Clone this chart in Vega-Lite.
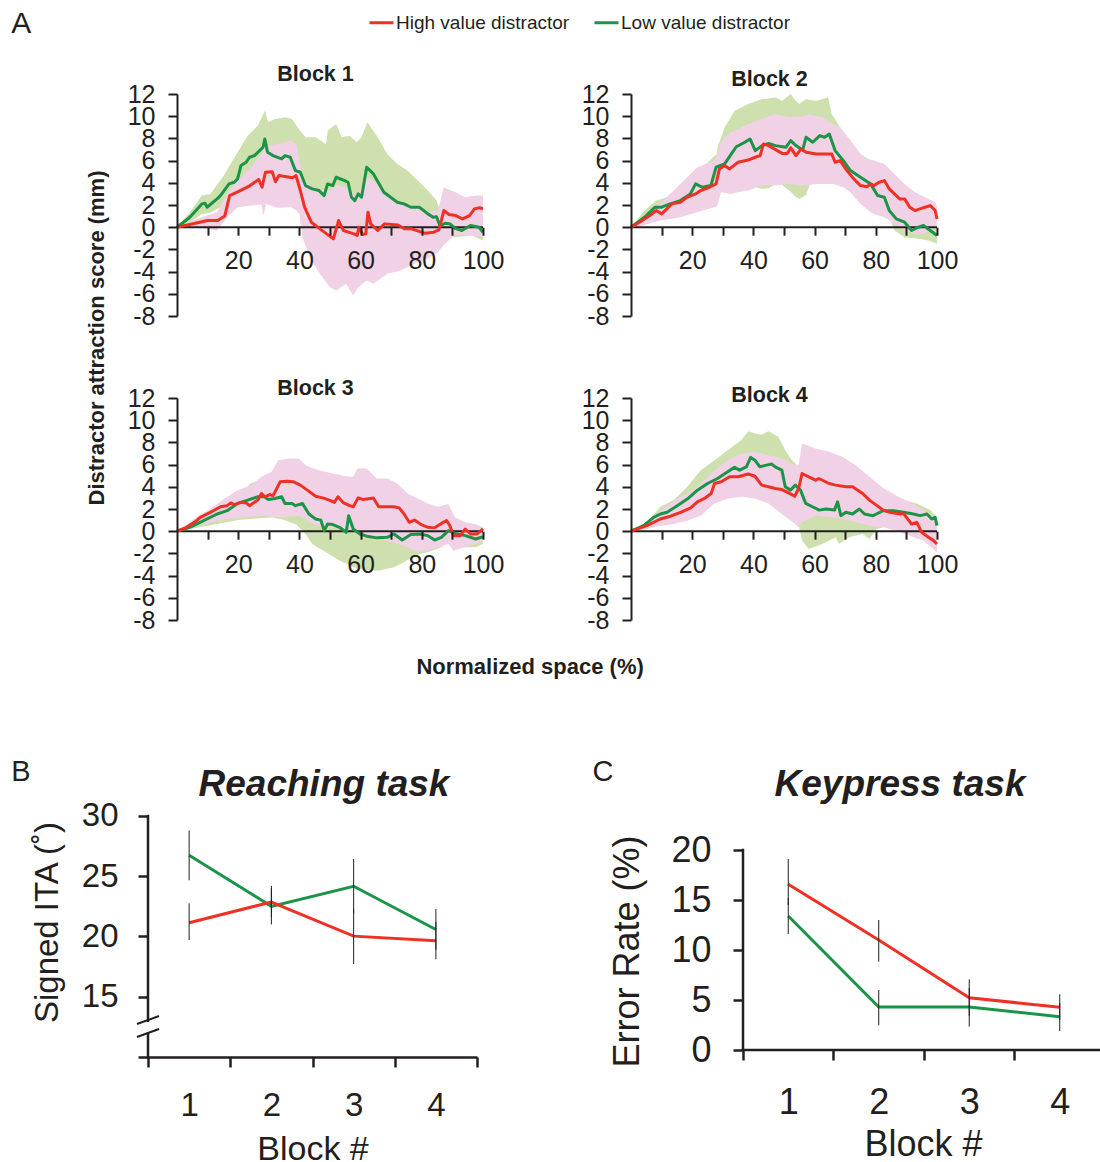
{
"$schema": "https://vega.github.io/schema/vega-lite/v6.json",
"padding": {"left": 11, "top": 9, "right": 2, "bottom": 2},
"title": {"text": "A", "anchor": "start", "frame": "bounds", "fontSize": 30, "fontWeight": "normal", "baseline": "bottom", "offset": -60, "color": "#231f20", "font": "Liberation Sans"},
"config": {
 "view": {"stroke": null},
 "font": "Liberation Sans",
 "axis": {"grid": false, "labelOverlap": false, "labelFlush": false, "domainColor": "#231f20", "tickColor": "#231f20", "labelColor": "#231f20", "titleColor": "#231f20", "labelFont": "Liberation Sans", "titleFont": "Liberation Sans", "titleFontWeight": "normal"},
 "title": {"font": "Liberation Sans", "fontSize": 21.5, "fontWeight": "bold", "color": "#231f20", "frame": "group", "anchor": "middle", "baseline": "bottom"},
 "legend": {"orient": "none", "legendX": 220, "legendY": -85, "direction": "horizontal", "symbolType": "stroke", "symbolSize": 576, "symbolStrokeWidth": 3, "labelFontSize": 19, "labelFont": "Liberation Sans", "labelColor": "#231f20", "columnPadding": 18, "labelOffset": 1, "labelLimit": 0}
},
"datasets": {
 "lines": [
{"b":1,"g":"H","x":0,"y":0},{"b":1,"g":"H","x":6.7,"y":0.4},{"b":1,"g":"H","x":10,"y":0.6},{"b":1,"g":"H","x":13.3,"y":0.6},{"b":1,"g":"H","x":15.6,"y":1.0},{"b":1,"g":"H","x":17.2,"y":2.85},{"b":1,"g":"H","x":20,"y":3.2},{"b":1,"g":"H","x":23.3,"y":3.65},{"b":1,"g":"H","x":26.7,"y":4.3},{"b":1,"g":"H","x":27.8,"y":3.6},{"b":1,"g":"H","x":28.9,"y":4.95},{"b":1,"g":"H","x":31.1,"y":5.0},{"b":1,"g":"H","x":32.2,"y":4.1},{"b":1,"g":"H","x":33.3,"y":4.65},{"b":1,"g":"H","x":37.8,"y":4.45},{"b":1,"g":"H","x":38.9,"y":4.65},{"b":1,"g":"H","x":40,"y":3.6},{"b":1,"g":"H","x":41.7,"y":1.8},{"b":1,"g":"H","x":43.9,"y":0.45},{"b":1,"g":"H","x":46.7,"y":-0.15},{"b":1,"g":"H","x":51.1,"y":-1.05},{"b":1,"g":"H","x":52.8,"y":0.6},{"b":1,"g":"H","x":54.4,"y":-0.3},{"b":1,"g":"H","x":57.8,"y":-0.6},{"b":1,"g":"H","x":58.9,"y":-0.75},{"b":1,"g":"H","x":59.4,"y":0},{"b":1,"g":"H","x":60.6,"y":-0.65},{"b":1,"g":"H","x":61.7,"y":-0.6},{"b":1,"g":"H","x":62.4,"y":1.35},{"b":1,"g":"H","x":63.3,"y":0.3},{"b":1,"g":"H","x":65.6,"y":-0.3},{"b":1,"g":"H","x":67.8,"y":0.3},{"b":1,"g":"H","x":72.2,"y":0.2},{"b":1,"g":"H","x":74.4,"y":-0.15},{"b":1,"g":"H","x":76.7,"y":-0.15},{"b":1,"g":"H","x":78.9,"y":-0.35},{"b":1,"g":"H","x":81.1,"y":-0.55},{"b":1,"g":"H","x":83.9,"y":-0.45},{"b":1,"g":"H","x":85.6,"y":-0.25},{"b":1,"g":"H","x":87.2,"y":1.5},{"b":1,"g":"H","x":88.9,"y":1.15},{"b":1,"g":"H","x":91.1,"y":1.05},{"b":1,"g":"H","x":93.3,"y":0.75},{"b":1,"g":"H","x":95.6,"y":1.05},{"b":1,"g":"H","x":97.2,"y":1.65},{"b":1,"g":"H","x":98.9,"y":1.75},{"b":1,"g":"H","x":100,"y":1.65},
{"b":1,"g":"L","x":0,"y":0},{"b":1,"g":"L","x":4.2,"y":0.9},{"b":1,"g":"L","x":8.1,"y":2.1},{"b":1,"g":"L","x":9.2,"y":2.15},{"b":1,"g":"L","x":9.8,"y":1.8},{"b":1,"g":"L","x":13.1,"y":2.55},{"b":1,"g":"L","x":14.2,"y":2.85},{"b":1,"g":"L","x":17,"y":3.9},{"b":1,"g":"L","x":18.7,"y":4.05},{"b":1,"g":"L","x":19.8,"y":4.35},{"b":1,"g":"L","x":20.9,"y":5.55},{"b":1,"g":"L","x":22.6,"y":5.85},{"b":1,"g":"L","x":23.7,"y":6.3},{"b":1,"g":"L","x":25.3,"y":6.45},{"b":1,"g":"L","x":27,"y":6.9},{"b":1,"g":"L","x":28.1,"y":7.2},{"b":1,"g":"L","x":28.7,"y":7.95},{"b":1,"g":"L","x":29.6,"y":6.75},{"b":1,"g":"L","x":31.4,"y":6.45},{"b":1,"g":"L","x":34.2,"y":6.15},{"b":1,"g":"L","x":35.3,"y":6.45},{"b":1,"g":"L","x":37,"y":6.3},{"b":1,"g":"L","x":38.7,"y":5.1},{"b":1,"g":"L","x":40.3,"y":4.95},{"b":1,"g":"L","x":42,"y":3.75},{"b":1,"g":"L","x":44.2,"y":3.45},{"b":1,"g":"L","x":46.4,"y":3.3},{"b":1,"g":"L","x":48.1,"y":2.85},{"b":1,"g":"L","x":49.2,"y":3.9},{"b":1,"g":"L","x":50.9,"y":3.75},{"b":1,"g":"L","x":52,"y":4.5},{"b":1,"g":"L","x":54.8,"y":4.2},{"b":1,"g":"L","x":55.9,"y":4.05},{"b":1,"g":"L","x":57,"y":2.7},{"b":1,"g":"L","x":58.1,"y":2.4},{"b":1,"g":"L","x":59.2,"y":3.0},{"b":1,"g":"L","x":60.3,"y":2.7},{"b":1,"g":"L","x":62,"y":5.4},{"b":1,"g":"L","x":64.2,"y":4.8},{"b":1,"g":"L","x":67.6,"y":3.15},{"b":1,"g":"L","x":69.8,"y":2.7},{"b":1,"g":"L","x":72,"y":2.25},{"b":1,"g":"L","x":74.2,"y":2.1},{"b":1,"g":"L","x":76.4,"y":1.8},{"b":1,"g":"L","x":79.2,"y":1.8},{"b":1,"g":"L","x":82,"y":1.2},{"b":1,"g":"L","x":83.7,"y":0.9},{"b":1,"g":"L","x":84.8,"y":0.95},{"b":1,"g":"L","x":85.9,"y":0.15},{"b":1,"g":"L","x":87.6,"y":0.35},{"b":1,"g":"L","x":89.2,"y":0.3},{"b":1,"g":"L","x":90.9,"y":-0.1},{"b":1,"g":"L","x":93.1,"y":-0.3},{"b":1,"g":"L","x":95.9,"y":0.15},{"b":1,"g":"L","x":98.7,"y":0},{"b":1,"g":"L","x":100,"y":-0.45},
{"b":2,"g":"H","x":0,"y":0},{"b":2,"g":"H","x":2.8,"y":0.45},{"b":2,"g":"H","x":6.1,"y":1.05},{"b":2,"g":"H","x":8.3,"y":1.5},{"b":2,"g":"H","x":10,"y":1.2},{"b":2,"g":"H","x":11.7,"y":1.65},{"b":2,"g":"H","x":13.3,"y":2.1},{"b":2,"g":"H","x":16.1,"y":2.25},{"b":2,"g":"H","x":18.3,"y":2.7},{"b":2,"g":"H","x":21.1,"y":3.0},{"b":2,"g":"H","x":22.8,"y":3.3},{"b":2,"g":"H","x":25.6,"y":3.6},{"b":2,"g":"H","x":27.8,"y":3.9},{"b":2,"g":"H","x":28.9,"y":5.25},{"b":2,"g":"H","x":30.6,"y":5.55},{"b":2,"g":"H","x":32.2,"y":5.25},{"b":2,"g":"H","x":35,"y":5.85},{"b":2,"g":"H","x":38.3,"y":6.05},{"b":2,"g":"H","x":40.6,"y":6.3},{"b":2,"g":"H","x":42.2,"y":6.45},{"b":2,"g":"H","x":43.3,"y":7.5},{"b":2,"g":"H","x":45,"y":7.35},{"b":2,"g":"H","x":47.8,"y":6.9},{"b":2,"g":"H","x":49.4,"y":6.65},{"b":2,"g":"H","x":51.1,"y":6.65},{"b":2,"g":"H","x":52.2,"y":7.15},{"b":2,"g":"H","x":53.9,"y":6.45},{"b":2,"g":"H","x":55.6,"y":7.05},{"b":2,"g":"H","x":57.2,"y":6.75},{"b":2,"g":"H","x":60.6,"y":6.6},{"b":2,"g":"H","x":65.6,"y":6.6},{"b":2,"g":"H","x":66.7,"y":5.85},{"b":2,"g":"H","x":68.3,"y":6.0},{"b":2,"g":"H","x":70.6,"y":5.1},{"b":2,"g":"H","x":72.8,"y":4.35},{"b":2,"g":"H","x":75,"y":3.75},{"b":2,"g":"H","x":77.2,"y":3.65},{"b":2,"g":"H","x":78.3,"y":3.9},{"b":2,"g":"H","x":79.4,"y":3.75},{"b":2,"g":"H","x":81.1,"y":4.05},{"b":2,"g":"H","x":82.8,"y":4.2},{"b":2,"g":"H","x":84.4,"y":3.45},{"b":2,"g":"H","x":86.1,"y":3.0},{"b":2,"g":"H","x":87.8,"y":2.55},{"b":2,"g":"H","x":89.4,"y":2.55},{"b":2,"g":"H","x":91.1,"y":1.8},{"b":2,"g":"H","x":92.8,"y":1.5},{"b":2,"g":"H","x":94.4,"y":1.65},{"b":2,"g":"H","x":96.1,"y":1.8},{"b":2,"g":"H","x":97.8,"y":1.95},{"b":2,"g":"H","x":99.4,"y":1.5},{"b":2,"g":"H","x":100,"y":0.75},
{"b":2,"g":"L","x":0,"y":0},{"b":2,"g":"L","x":4.4,"y":0.9},{"b":2,"g":"L","x":7.8,"y":1.8},{"b":2,"g":"L","x":10,"y":1.8},{"b":2,"g":"L","x":12.8,"y":2.1},{"b":2,"g":"L","x":16.1,"y":2.4},{"b":2,"g":"L","x":19.4,"y":3.0},{"b":2,"g":"L","x":21.1,"y":3.9},{"b":2,"g":"L","x":23.3,"y":3.6},{"b":2,"g":"L","x":26.1,"y":3.75},{"b":2,"g":"L","x":27.8,"y":5.4},{"b":2,"g":"L","x":30.6,"y":5.7},{"b":2,"g":"L","x":32.8,"y":6.6},{"b":2,"g":"L","x":34.4,"y":7.25},{"b":2,"g":"L","x":37.2,"y":7.65},{"b":2,"g":"L","x":38.9,"y":7.95},{"b":2,"g":"L","x":40.6,"y":6.9},{"b":2,"g":"L","x":42.8,"y":7.35},{"b":2,"g":"L","x":45,"y":7.55},{"b":2,"g":"L","x":47.2,"y":7.35},{"b":2,"g":"L","x":50.6,"y":7.2},{"b":2,"g":"L","x":52.2,"y":7.8},{"b":2,"g":"L","x":53.9,"y":7.35},{"b":2,"g":"L","x":56.1,"y":6.95},{"b":2,"g":"L","x":57.2,"y":8.1},{"b":2,"g":"L","x":59.4,"y":7.65},{"b":2,"g":"L","x":61.7,"y":8.25},{"b":2,"g":"L","x":63.3,"y":8.1},{"b":2,"g":"L","x":64.8,"y":8.4},{"b":2,"g":"L","x":66.7,"y":6.9},{"b":2,"g":"L","x":69.4,"y":6.0},{"b":2,"g":"L","x":71.7,"y":5.1},{"b":2,"g":"L","x":75,"y":4.5},{"b":2,"g":"L","x":78.3,"y":3.9},{"b":2,"g":"L","x":80.6,"y":2.85},{"b":2,"g":"L","x":82.8,"y":2.7},{"b":2,"g":"L","x":84.4,"y":1.5},{"b":2,"g":"L","x":86.7,"y":0.75},{"b":2,"g":"L","x":89.4,"y":0.45},{"b":2,"g":"L","x":91.7,"y":-0.3},{"b":2,"g":"L","x":93.9,"y":0},{"b":2,"g":"L","x":95.6,"y":0.15},{"b":2,"g":"L","x":97.8,"y":-0.3},{"b":2,"g":"L","x":100,"y":-0.75},
{"b":3,"g":"H","x":0,"y":0},{"b":3,"g":"H","x":3.1,"y":0.35},{"b":3,"g":"H","x":6.4,"y":0.95},{"b":3,"g":"H","x":7.6,"y":1.25},{"b":3,"g":"H","x":10.9,"y":1.7},{"b":3,"g":"H","x":14.2,"y":2.2},{"b":3,"g":"H","x":16.4,"y":2.3},{"b":3,"g":"H","x":17.6,"y":2.55},{"b":3,"g":"H","x":18.7,"y":2.4},{"b":3,"g":"H","x":20.9,"y":2.6},{"b":3,"g":"H","x":22.6,"y":2.55},{"b":3,"g":"H","x":23.7,"y":2.3},{"b":3,"g":"H","x":25.3,"y":2.6},{"b":3,"g":"H","x":26.4,"y":2.8},{"b":3,"g":"H","x":27.6,"y":3.4},{"b":3,"g":"H","x":28.7,"y":3.1},{"b":3,"g":"H","x":30.3,"y":3.3},{"b":3,"g":"H","x":31.4,"y":3.2},{"b":3,"g":"H","x":33.7,"y":4.45},{"b":3,"g":"H","x":35.9,"y":4.5},{"b":3,"g":"H","x":38.1,"y":4.45},{"b":3,"g":"H","x":40.3,"y":4.15},{"b":3,"g":"H","x":42.6,"y":3.7},{"b":3,"g":"H","x":45.3,"y":3.15},{"b":3,"g":"H","x":47.6,"y":3.0},{"b":3,"g":"H","x":49.8,"y":2.8},{"b":3,"g":"H","x":51.4,"y":2.6},{"b":3,"g":"H","x":52.6,"y":3.1},{"b":3,"g":"H","x":54.2,"y":2.6},{"b":3,"g":"H","x":56.4,"y":2.3},{"b":3,"g":"H","x":57.6,"y":2.2},{"b":3,"g":"H","x":59.2,"y":3.0},{"b":3,"g":"H","x":60.9,"y":2.85},{"b":3,"g":"H","x":64.2,"y":3.0},{"b":3,"g":"H","x":65.9,"y":2.2},{"b":3,"g":"H","x":68.7,"y":2.2},{"b":3,"g":"H","x":70.9,"y":2.2},{"b":3,"g":"H","x":72.6,"y":2.1},{"b":3,"g":"H","x":74.2,"y":1.55},{"b":3,"g":"H","x":75.9,"y":0.8},{"b":3,"g":"H","x":77.6,"y":1.0},{"b":3,"g":"H","x":79.8,"y":0.6},{"b":3,"g":"H","x":82,"y":0.35},{"b":3,"g":"H","x":84.2,"y":0.3},{"b":3,"g":"H","x":86.4,"y":0.7},{"b":3,"g":"H","x":88.1,"y":0.95},{"b":3,"g":"H","x":89.2,"y":0.5},{"b":3,"g":"H","x":90.3,"y":-0.4},{"b":3,"g":"H","x":92.6,"y":-0.4},{"b":3,"g":"H","x":94.2,"y":0.2},{"b":3,"g":"H","x":95.9,"y":-0.25},{"b":3,"g":"H","x":98.1,"y":-0.25},{"b":3,"g":"H","x":100,"y":0.2},
{"b":3,"g":"L","x":0,"y":0},{"b":3,"g":"L","x":4.2,"y":0.35},{"b":3,"g":"L","x":8.7,"y":0.95},{"b":3,"g":"L","x":13.1,"y":1.55},{"b":3,"g":"L","x":16.4,"y":1.85},{"b":3,"g":"L","x":19.8,"y":2.5},{"b":3,"g":"L","x":23.1,"y":2.8},{"b":3,"g":"L","x":26.4,"y":3.1},{"b":3,"g":"L","x":28.7,"y":3.1},{"b":3,"g":"L","x":29.8,"y":2.85},{"b":3,"g":"L","x":32,"y":2.95},{"b":3,"g":"L","x":34.2,"y":3.1},{"b":3,"g":"L","x":35.3,"y":2.5},{"b":3,"g":"L","x":37.6,"y":2.5},{"b":3,"g":"L","x":38.7,"y":2.3},{"b":3,"g":"L","x":41,"y":2.5},{"b":3,"g":"L","x":43.1,"y":1.55},{"b":3,"g":"L","x":45.3,"y":1.1},{"b":3,"g":"L","x":47,"y":1.0},{"b":3,"g":"L","x":48.1,"y":0.05},{"b":3,"g":"L","x":49.2,"y":0.65},{"b":3,"g":"L","x":50.9,"y":0.6},{"b":3,"g":"L","x":53.1,"y":0.35},{"b":3,"g":"L","x":55.3,"y":-0.1},{"b":3,"g":"L","x":56.1,"y":1.4},{"b":3,"g":"L","x":57.6,"y":0.2},{"b":3,"g":"L","x":59.8,"y":-0.25},{"b":3,"g":"L","x":62,"y":-0.45},{"b":3,"g":"L","x":65.3,"y":-0.6},{"b":3,"g":"L","x":68.7,"y":-0.55},{"b":3,"g":"L","x":70.9,"y":-0.25},{"b":3,"g":"L","x":73.6,"y":-0.8},{"b":3,"g":"L","x":76.4,"y":-0.3},{"b":3,"g":"L","x":79.2,"y":-0.25},{"b":3,"g":"L","x":82,"y":-0.4},{"b":3,"g":"L","x":84.2,"y":-0.8},{"b":3,"g":"L","x":86.4,"y":-0.55},{"b":3,"g":"L","x":88.7,"y":0.05},{"b":3,"g":"L","x":90.9,"y":-0.2},{"b":3,"g":"L","x":94.2,"y":-0.4},{"b":3,"g":"L","x":97.6,"y":-0.7},{"b":3,"g":"L","x":100,"y":-0.5},
{"b":4,"g":"H","x":0,"y":0},{"b":4,"g":"H","x":5.2,"y":0.5},{"b":4,"g":"H","x":9.6,"y":1.1},{"b":4,"g":"H","x":12.9,"y":1.35},{"b":4,"g":"H","x":16.2,"y":1.7},{"b":4,"g":"H","x":19.5,"y":2.1},{"b":4,"g":"H","x":21.7,"y":2.65},{"b":4,"g":"H","x":24,"y":2.95},{"b":4,"g":"H","x":26.2,"y":3.4},{"b":4,"g":"H","x":27.3,"y":4.3},{"b":4,"g":"H","x":29.5,"y":4.45},{"b":4,"g":"H","x":32.2,"y":4.9},{"b":4,"g":"H","x":35,"y":4.9},{"b":4,"g":"H","x":38.3,"y":5.15},{"b":4,"g":"H","x":40.5,"y":4.95},{"b":4,"g":"H","x":42.7,"y":4.15},{"b":4,"g":"H","x":44.9,"y":4.0},{"b":4,"g":"H","x":47.1,"y":3.85},{"b":4,"g":"H","x":49.3,"y":3.75},{"b":4,"g":"H","x":51.5,"y":3.45},{"b":4,"g":"H","x":53.5,"y":3.15},{"b":4,"g":"H","x":54.8,"y":3.85},{"b":4,"g":"H","x":55.9,"y":5.2},{"b":4,"g":"H","x":58.1,"y":4.9},{"b":4,"g":"H","x":60.3,"y":4.6},{"b":4,"g":"H","x":61.4,"y":4.75},{"b":4,"g":"H","x":64.7,"y":4.3},{"b":4,"g":"H","x":66.9,"y":4.15},{"b":4,"g":"H","x":70.2,"y":4.0},{"b":4,"g":"H","x":72.4,"y":4.0},{"b":4,"g":"H","x":75.7,"y":3.4},{"b":4,"g":"H","x":77.9,"y":2.8},{"b":4,"g":"H","x":80.2,"y":2.35},{"b":4,"g":"H","x":82.4,"y":1.9},{"b":4,"g":"H","x":84.6,"y":1.7},{"b":4,"g":"H","x":87.9,"y":1.55},{"b":4,"g":"H","x":89,"y":1.6},{"b":4,"g":"H","x":91.7,"y":0.65},{"b":4,"g":"H","x":93.4,"y":0.8},{"b":4,"g":"H","x":95,"y":-0.1},{"b":4,"g":"H","x":97.2,"y":-0.55},{"b":4,"g":"H","x":98.9,"y":-0.85},{"b":4,"g":"H","x":100,"y":-1.15},
{"b":4,"g":"L","x":0,"y":0},{"b":4,"g":"L","x":4.1,"y":0.5},{"b":4,"g":"L","x":7.4,"y":1.25},{"b":4,"g":"L","x":9.6,"y":1.55},{"b":4,"g":"L","x":11.8,"y":1.7},{"b":4,"g":"L","x":15.1,"y":2.3},{"b":4,"g":"L","x":18.4,"y":2.9},{"b":4,"g":"L","x":21.7,"y":3.7},{"b":4,"g":"L","x":25,"y":4.3},{"b":4,"g":"L","x":28.3,"y":4.75},{"b":4,"g":"L","x":31.6,"y":5.35},{"b":4,"g":"L","x":33.8,"y":5.75},{"b":4,"g":"L","x":35.5,"y":5.5},{"b":4,"g":"L","x":37.7,"y":5.8},{"b":4,"g":"L","x":39.1,"y":6.65},{"b":4,"g":"L","x":40.5,"y":6.4},{"b":4,"g":"L","x":42.1,"y":5.8},{"b":4,"g":"L","x":44.3,"y":5.95},{"b":4,"g":"L","x":46,"y":6.05},{"b":4,"g":"L","x":47.1,"y":5.8},{"b":4,"g":"L","x":49.3,"y":5.5},{"b":4,"g":"L","x":50.4,"y":4.0},{"b":4,"g":"L","x":52.1,"y":3.7},{"b":4,"g":"L","x":53.7,"y":4.15},{"b":4,"g":"L","x":55.4,"y":3.7},{"b":4,"g":"L","x":57.1,"y":2.5},{"b":4,"g":"L","x":59.3,"y":2.2},{"b":4,"g":"L","x":61.5,"y":1.9},{"b":4,"g":"L","x":63.7,"y":2.0},{"b":4,"g":"L","x":66.5,"y":1.9},{"b":4,"g":"L","x":67.5,"y":2.65},{"b":4,"g":"L","x":68.6,"y":1.4},{"b":4,"g":"L","x":70.2,"y":1.7},{"b":4,"g":"L","x":72.4,"y":1.55},{"b":4,"g":"L","x":74.6,"y":2.0},{"b":4,"g":"L","x":76.3,"y":1.55},{"b":4,"g":"L","x":79.1,"y":1.4},{"b":4,"g":"L","x":80.2,"y":1.55},{"b":4,"g":"L","x":82.4,"y":1.85},{"b":4,"g":"L","x":85.7,"y":1.85},{"b":4,"g":"L","x":89,"y":1.7},{"b":4,"g":"L","x":92.3,"y":1.55},{"b":4,"g":"L","x":94.5,"y":1.4},{"b":4,"g":"L","x":96.7,"y":1.55},{"b":4,"g":"L","x":98.3,"y":1.1},{"b":4,"g":"L","x":99.4,"y":1.25},{"b":4,"g":"L","x":100,"y":0.5}
 ],
 "bands": [
{"b":1,"g":"H","x":0,"lo":0,"hi":0},{"b":1,"g":"H","x":6.4,"lo":0,"hi":0.75},{"b":1,"g":"H","x":9.8,"lo":-0.15,"hi":1.05},{"b":1,"g":"H","x":13.1,"lo":-0.3,"hi":1.35},{"b":1,"g":"H","x":16.4,"lo":0.9,"hi":3.0},{"b":1,"g":"H","x":19.8,"lo":1.8,"hi":4.2},{"b":1,"g":"H","x":24.2,"lo":1.95,"hi":5.4},{"b":1,"g":"H","x":27.6,"lo":2.05,"hi":6.6},{"b":1,"g":"H","x":28.2,"lo":1.05,"hi":6.9},{"b":1,"g":"H","x":29.2,"lo":2.1,"hi":7.35},{"b":1,"g":"H","x":32.9,"lo":1.75,"hi":7.5},{"b":1,"g":"H","x":37.3,"lo":1.8,"hi":7.8},{"b":1,"g":"H","x":39,"lo":1.5,"hi":7.5},{"b":1,"g":"H","x":40,"lo":1.2,"hi":6.0},{"b":1,"g":"H","x":41,"lo":-0.9,"hi":4.5},{"b":1,"g":"H","x":43.3,"lo":-2.7,"hi":3.8},{"b":1,"g":"H","x":46.7,"lo":-4.2,"hi":3.4},{"b":1,"g":"H","x":50,"lo":-5.4,"hi":3.3},{"b":1,"g":"H","x":52,"lo":-5.7,"hi":3.8},{"b":1,"g":"H","x":55.3,"lo":-5.1,"hi":3.6},{"b":1,"g":"H","x":57.6,"lo":-6.15,"hi":3.0},{"b":1,"g":"H","x":59.2,"lo":-5.4,"hi":3.0},{"b":1,"g":"H","x":62,"lo":-4.8,"hi":4.6},{"b":1,"g":"H","x":64.2,"lo":-5.1,"hi":4.2},{"b":1,"g":"H","x":68.7,"lo":-4.2,"hi":3.0},{"b":1,"g":"H","x":73.1,"lo":-3.9,"hi":2.2},{"b":1,"g":"H","x":77.6,"lo":-3.3,"hi":1.7},{"b":1,"g":"H","x":82,"lo":-2.85,"hi":1.4},{"b":1,"g":"H","x":85.3,"lo":-2.25,"hi":1.5},{"b":1,"g":"H","x":87.2,"lo":-1.6,"hi":3.6},{"b":1,"g":"H","x":88.7,"lo":-1.2,"hi":3.4},{"b":1,"g":"H","x":91,"lo":-0.65,"hi":3.15},{"b":1,"g":"H","x":94.2,"lo":-0.7,"hi":2.7},{"b":1,"g":"H","x":97.6,"lo":-0.8,"hi":2.85},{"b":1,"g":"H","x":100,"lo":-0.9,"hi":2.85},
{"b":1,"g":"L","x":0,"lo":0,"hi":0},{"b":1,"g":"L","x":4.2,"lo":0.4,"hi":1.35},{"b":1,"g":"L","x":8.1,"lo":1.2,"hi":2.85},{"b":1,"g":"L","x":10.9,"lo":1.3,"hi":3.0},{"b":1,"g":"L","x":15.3,"lo":2.0,"hi":4.65},{"b":1,"g":"L","x":19.8,"lo":2.6,"hi":6.75},{"b":1,"g":"L","x":23.1,"lo":3.5,"hi":8.25},{"b":1,"g":"L","x":26.4,"lo":4.5,"hi":9.15},{"b":1,"g":"L","x":28.7,"lo":5.0,"hi":10.5},{"b":1,"g":"L","x":29.8,"lo":4.5,"hi":9.45},{"b":1,"g":"L","x":32,"lo":4.3,"hi":9.75},{"b":1,"g":"L","x":35.3,"lo":4.0,"hi":9.9},{"b":1,"g":"L","x":37.6,"lo":3.8,"hi":9.75},{"b":1,"g":"L","x":39.8,"lo":3.2,"hi":8.85},{"b":1,"g":"L","x":42,"lo":2.0,"hi":8.1},{"b":1,"g":"L","x":45.3,"lo":1.5,"hi":8.1},{"b":1,"g":"L","x":48.7,"lo":1.0,"hi":7.5},{"b":1,"g":"L","x":49.3,"lo":1.2,"hi":8.7},{"b":1,"g":"L","x":52,"lo":1.5,"hi":9.3},{"b":1,"g":"L","x":53.8,"lo":1.0,"hi":8.1},{"b":1,"g":"L","x":56.4,"lo":0.5,"hi":8.25},{"b":1,"g":"L","x":58.7,"lo":0.3,"hi":7.65},{"b":1,"g":"L","x":60.3,"lo":0.5,"hi":8.1},{"b":1,"g":"L","x":62.2,"lo":1.5,"hi":9.45},{"b":1,"g":"L","x":65.3,"lo":1.2,"hi":8.25},{"b":1,"g":"L","x":68.7,"lo":0.5,"hi":6.6},{"b":1,"g":"L","x":72,"lo":0.2,"hi":5.7},{"b":1,"g":"L","x":75.3,"lo":0,"hi":5.1},{"b":1,"g":"L","x":78.7,"lo":-0.2,"hi":4.2},{"b":1,"g":"L","x":82,"lo":-0.4,"hi":3.3},{"b":1,"g":"L","x":84.8,"lo":-0.6,"hi":2.4},{"b":1,"g":"L","x":85.9,"lo":-0.8,"hi":1.5},{"b":1,"g":"L","x":88.7,"lo":-0.9,"hi":1.3},{"b":1,"g":"L","x":92,"lo":-0.85,"hi":1.0},{"b":1,"g":"L","x":96.4,"lo":-0.75,"hi":0.8},{"b":1,"g":"L","x":100,"lo":-1.2,"hi":0.5},
{"b":2,"g":"H","x":0,"lo":0,"hi":0},{"b":2,"g":"H","x":3.9,"lo":0.15,"hi":1.0},{"b":2,"g":"H","x":6.1,"lo":0.35,"hi":1.35},{"b":2,"g":"H","x":9.4,"lo":0.6,"hi":2.2},{"b":2,"g":"H","x":10.6,"lo":0.65,"hi":2.4},{"b":2,"g":"H","x":16.1,"lo":0.9,"hi":3.9},{"b":2,"g":"H","x":21.7,"lo":1.35,"hi":5.4},{"b":2,"g":"H","x":27.2,"lo":1.8,"hi":6.0},{"b":2,"g":"H","x":28.2,"lo":1.9,"hi":6.6},{"b":2,"g":"H","x":29.4,"lo":3.15,"hi":7.6},{"b":2,"g":"H","x":30.6,"lo":3.1,"hi":8.1},{"b":2,"g":"H","x":32.8,"lo":3.0,"hi":8.6},{"b":2,"g":"H","x":33.9,"lo":3.1,"hi":8.7},{"b":2,"g":"H","x":38.3,"lo":3.3,"hi":9.3},{"b":2,"g":"H","x":42.8,"lo":3.75,"hi":9.75},{"b":2,"g":"H","x":47.2,"lo":3.75,"hi":10.2},{"b":2,"g":"H","x":51.7,"lo":3.9,"hi":9.9},{"b":2,"g":"H","x":56.1,"lo":3.75,"hi":10.0},{"b":2,"g":"H","x":58.3,"lo":3.8,"hi":10.2},{"b":2,"g":"H","x":60.6,"lo":3.9,"hi":10.0},{"b":2,"g":"H","x":62.8,"lo":3.9,"hi":9.9},{"b":2,"g":"H","x":65,"lo":3.9,"hi":9.45},{"b":2,"g":"H","x":66.1,"lo":3.9,"hi":9.3},{"b":2,"g":"H","x":68.3,"lo":3.7,"hi":9.0},{"b":2,"g":"H","x":69.4,"lo":3.6,"hi":8.6},{"b":2,"g":"H","x":71.7,"lo":3.15,"hi":7.8},{"b":2,"g":"H","x":75,"lo":2.1,"hi":6.6},{"b":2,"g":"H","x":76.1,"lo":1.85,"hi":6.3},{"b":2,"g":"H","x":78.3,"lo":1.35,"hi":6.1},{"b":2,"g":"H","x":79.4,"lo":1.2,"hi":6.0},{"b":2,"g":"H","x":82.8,"lo":0.9,"hi":5.7},{"b":2,"g":"H","x":86.1,"lo":0.3,"hi":4.8},{"b":2,"g":"H","x":89.4,"lo":-0.3,"hi":3.9},{"b":2,"g":"H","x":92.8,"lo":-0.6,"hi":3.15},{"b":2,"g":"H","x":96.1,"lo":-0.6,"hi":2.7},{"b":2,"g":"H","x":99.4,"lo":0,"hi":2.25},{"b":2,"g":"H","x":100,"lo":0.15,"hi":1.8},
{"b":2,"g":"L","x":0,"lo":0,"hi":0},{"b":2,"g":"L","x":4.4,"lo":0.3,"hi":1.5},{"b":2,"g":"L","x":8.3,"lo":0.8,"hi":2.4},{"b":2,"g":"L","x":11.7,"lo":1.2,"hi":2.7},{"b":2,"g":"L","x":20,"lo":2.0,"hi":4.5},{"b":2,"g":"L","x":28,"lo":3.0,"hi":6.6},{"b":2,"g":"L","x":28.3,"lo":3.1,"hi":7.2},{"b":2,"g":"L","x":30.6,"lo":3.3,"hi":9.0},{"b":2,"g":"L","x":33.9,"lo":3.6,"hi":10.5},{"b":2,"g":"L","x":38.3,"lo":3.8,"hi":11.1},{"b":2,"g":"L","x":42.8,"lo":3.45,"hi":11.55},{"b":2,"g":"L","x":45,"lo":3.5,"hi":11.6},{"b":2,"g":"L","x":47.2,"lo":3.9,"hi":11.7},{"b":2,"g":"L","x":49.4,"lo":3.8,"hi":11.4},{"b":2,"g":"L","x":52.2,"lo":3.2,"hi":12.0},{"b":2,"g":"L","x":53.5,"lo":2.8,"hi":11.5},{"b":2,"g":"L","x":55,"lo":2.55,"hi":11.1},{"b":2,"g":"L","x":57.2,"lo":2.9,"hi":11.55},{"b":2,"g":"L","x":58.5,"lo":3.9,"hi":11.45},{"b":2,"g":"L","x":60.6,"lo":4.2,"hi":11.4},{"b":2,"g":"L","x":64.4,"lo":4.5,"hi":11.7},{"b":2,"g":"L","x":65.6,"lo":4.6,"hi":10.2},{"b":2,"g":"L","x":68.3,"lo":4.4,"hi":9.0},{"b":2,"g":"L","x":71.7,"lo":3.8,"hi":7.8},{"b":2,"g":"L","x":75,"lo":3.0,"hi":6.6},{"b":2,"g":"L","x":78.3,"lo":2.2,"hi":6.0},{"b":2,"g":"L","x":79.4,"lo":1.8,"hi":5.1},{"b":2,"g":"L","x":82,"lo":1.2,"hi":3.8},{"b":2,"g":"L","x":84.4,"lo":0.9,"hi":3.0},{"b":2,"g":"L","x":86.1,"lo":-0.3,"hi":2.2},{"b":2,"g":"L","x":89.4,"lo":-0.9,"hi":1.4},{"b":2,"g":"L","x":93.9,"lo":-1.05,"hi":1.0},{"b":2,"g":"L","x":97.2,"lo":-1.2,"hi":0.6},{"b":2,"g":"L","x":100,"lo":-1.5,"hi":0.2},
{"b":3,"g":"H","x":0,"lo":0,"hi":0},{"b":3,"g":"H","x":6.4,"lo":0.5,"hi":1.25},{"b":3,"g":"H","x":10.9,"lo":0.8,"hi":2.0},{"b":3,"g":"H","x":15.3,"lo":1.05,"hi":2.9},{"b":3,"g":"H","x":19.8,"lo":1.2,"hi":3.7},{"b":3,"g":"H","x":24.2,"lo":1.3,"hi":4.15},{"b":3,"g":"H","x":27.6,"lo":1.4,"hi":4.9},{"b":3,"g":"H","x":30.9,"lo":1.3,"hi":5.35},{"b":3,"g":"H","x":33.1,"lo":1.25,"hi":6.4},{"b":3,"g":"H","x":36.4,"lo":1.3,"hi":6.55},{"b":3,"g":"H","x":39.8,"lo":1.4,"hi":6.55},{"b":3,"g":"H","x":42,"lo":1.1,"hi":5.95},{"b":3,"g":"H","x":44.2,"lo":0.65,"hi":5.7},{"b":3,"g":"H","x":46.4,"lo":0.5,"hi":5.5},{"b":3,"g":"H","x":50.9,"lo":0.35,"hi":5.2},{"b":3,"g":"H","x":55.3,"lo":0.2,"hi":4.95},{"b":3,"g":"H","x":57.6,"lo":0.05,"hi":4.9},{"b":3,"g":"H","x":58.9,"lo":-0.3,"hi":5.65},{"b":3,"g":"H","x":62,"lo":-0.6,"hi":5.65},{"b":3,"g":"H","x":65.3,"lo":-0.72,"hi":4.75},{"b":3,"g":"H","x":68.7,"lo":-0.85,"hi":4.75},{"b":3,"g":"H","x":72,"lo":-1.15,"hi":4.3},{"b":3,"g":"H","x":75.3,"lo":-1.45,"hi":3.4},{"b":3,"g":"H","x":78.7,"lo":-1.9,"hi":2.95},{"b":3,"g":"H","x":82,"lo":-1.75,"hi":2.5},{"b":3,"g":"H","x":85.3,"lo":-1.45,"hi":2.2},{"b":3,"g":"H","x":88.7,"lo":-1.15,"hi":2.45},{"b":3,"g":"H","x":90.3,"lo":-1.75,"hi":1.5},{"b":3,"g":"H","x":90.9,"lo":-1.7,"hi":1.25},{"b":3,"g":"H","x":94.2,"lo":-1.45,"hi":0.8},{"b":3,"g":"H","x":97.6,"lo":-1.15,"hi":0.65},{"b":3,"g":"H","x":100,"lo":-0.85,"hi":0.35},
{"b":3,"g":"L","x":0,"lo":0,"hi":0},{"b":3,"g":"L","x":10,"lo":0.5,"hi":1.6},{"b":3,"g":"L","x":20,"lo":1.0,"hi":3.2},{"b":3,"g":"L","x":24,"lo":1.1,"hi":4.3},{"b":3,"g":"L","x":26,"lo":1.15,"hi":4.5},{"b":3,"g":"L","x":28,"lo":1.2,"hi":4.6},{"b":3,"g":"L","x":30,"lo":1.22,"hi":4.5},{"b":3,"g":"L","x":31,"lo":1.25,"hi":4.4},{"b":3,"g":"L","x":35,"lo":1.0,"hi":4.0},{"b":3,"g":"L","x":39,"lo":0.6,"hi":3.8},{"b":3,"g":"L","x":42,"lo":-0.25,"hi":3.4},{"b":3,"g":"L","x":44.2,"lo":-1.15,"hi":3.0},{"b":3,"g":"L","x":48.7,"lo":-1.9,"hi":2.2},{"b":3,"g":"L","x":53.1,"lo":-2.65,"hi":1.6},{"b":3,"g":"L","x":56,"lo":-3.0,"hi":2.0},{"b":3,"g":"L","x":57.6,"lo":-3.25,"hi":1.2},{"b":3,"g":"L","x":62,"lo":-3.55,"hi":1.0},{"b":3,"g":"L","x":66.2,"lo":-3.55,"hi":0.9},{"b":3,"g":"L","x":70.9,"lo":-3.25,"hi":0.8},{"b":3,"g":"L","x":74.2,"lo":-2.8,"hi":0.7},{"b":3,"g":"L","x":77.6,"lo":-2.2,"hi":0.6},{"b":3,"g":"L","x":82,"lo":-1.9,"hi":0.5},{"b":3,"g":"L","x":86.4,"lo":-1.45,"hi":0.8},{"b":3,"g":"L","x":88,"lo":-1.1,"hi":1.0},{"b":3,"g":"L","x":89.8,"lo":-0.85,"hi":0.8},{"b":3,"g":"L","x":92,"lo":-1.3,"hi":0.5},{"b":3,"g":"L","x":93.1,"lo":-1.45,"hi":0.4},{"b":3,"g":"L","x":97.6,"lo":-1.45,"hi":0.1},{"b":3,"g":"L","x":100,"lo":-1.15,"hi":-0.2},
{"b":4,"g":"H","x":0,"lo":0,"hi":0},{"b":4,"g":"H","x":5.2,"lo":0.2,"hi":0.8},{"b":4,"g":"H","x":9.6,"lo":0.5,"hi":1.85},{"b":4,"g":"H","x":14,"lo":0.65,"hi":2.7},{"b":4,"g":"H","x":16.2,"lo":0.8,"hi":3.1},{"b":4,"g":"H","x":18.4,"lo":0.95,"hi":3.4},{"b":4,"g":"H","x":21.7,"lo":1.3,"hi":4.0},{"b":4,"g":"H","x":22.8,"lo":1.4,"hi":4.3},{"b":4,"g":"H","x":27.3,"lo":2.5,"hi":5.5},{"b":4,"g":"H","x":31.6,"lo":2.95,"hi":6.4},{"b":4,"g":"H","x":36,"lo":3.1,"hi":7.0},{"b":4,"g":"H","x":40.5,"lo":2.95,"hi":7.15},{"b":4,"g":"H","x":44.9,"lo":2.5,"hi":6.85},{"b":4,"g":"H","x":49.3,"lo":1.55,"hi":6.55},{"b":4,"g":"H","x":53.7,"lo":0.65,"hi":5.95},{"b":4,"g":"H","x":54.8,"lo":0.35,"hi":6.0},{"b":4,"g":"H","x":55.9,"lo":0.8,"hi":7.9},{"b":4,"g":"H","x":60.3,"lo":1.4,"hi":7.45},{"b":4,"g":"H","x":64.7,"lo":1.25,"hi":7.15},{"b":4,"g":"H","x":69.1,"lo":1.1,"hi":6.7},{"b":4,"g":"H","x":73.5,"lo":0.8,"hi":5.95},{"b":4,"g":"H","x":77.9,"lo":0.5,"hi":4.9},{"b":4,"g":"H","x":82.4,"lo":0.35,"hi":3.9},{"b":4,"g":"H","x":86.8,"lo":0.05,"hi":3.2},{"b":4,"g":"H","x":91.2,"lo":-0.4,"hi":2.6},{"b":4,"g":"H","x":95.6,"lo":-0.85,"hi":1.9},{"b":4,"g":"H","x":100,"lo":-1.9,"hi":0.8},
{"b":4,"g":"L","x":0,"lo":0,"hi":0},{"b":4,"g":"L","x":5.2,"lo":0.5,"hi":0.8},{"b":4,"g":"L","x":9.6,"lo":0.95,"hi":2.2},{"b":4,"g":"L","x":14,"lo":1.3,"hi":2.8},{"b":4,"g":"L","x":18.4,"lo":1.7,"hi":4.0},{"b":4,"g":"L","x":22.8,"lo":2.2,"hi":5.5},{"b":4,"g":"L","x":27.3,"lo":2.7,"hi":6.4},{"b":4,"g":"L","x":31.6,"lo":3.1,"hi":7.3},{"b":4,"g":"L","x":36,"lo":3.4,"hi":8.2},{"b":4,"g":"L","x":38.3,"lo":3.5,"hi":9.0},{"b":4,"g":"L","x":40.5,"lo":3.5,"hi":8.8},{"b":4,"g":"L","x":42.7,"lo":3.4,"hi":8.7},{"b":4,"g":"L","x":44.9,"lo":3.3,"hi":9.0},{"b":4,"g":"L","x":48.2,"lo":3.1,"hi":8.5},{"b":4,"g":"L","x":50.4,"lo":2.8,"hi":7.3},{"b":4,"g":"L","x":52.6,"lo":2.3,"hi":6.4},{"b":4,"g":"L","x":54.3,"lo":1.25,"hi":5.95},{"b":4,"g":"L","x":55.9,"lo":-0.85,"hi":5.0},{"b":4,"g":"L","x":58.1,"lo":-1.6,"hi":5.0},{"b":4,"g":"L","x":62.5,"lo":-1.15,"hi":4.9},{"b":4,"g":"L","x":66.9,"lo":-0.55,"hi":4.7},{"b":4,"g":"L","x":68,"lo":-1.15,"hi":4.6},{"b":4,"g":"L","x":71.3,"lo":-0.55,"hi":4.5},{"b":4,"g":"L","x":75.7,"lo":-0.25,"hi":4.2},{"b":4,"g":"L","x":77.9,"lo":-0.7,"hi":4.1},{"b":4,"g":"L","x":80.2,"lo":0.2,"hi":4.0},{"b":4,"g":"L","x":84.6,"lo":0.5,"hi":3.4},{"b":4,"g":"L","x":89,"lo":0.5,"hi":2.8},{"b":4,"g":"L","x":93.4,"lo":0.35,"hi":2.5},{"b":4,"g":"L","x":97.8,"lo":0.5,"hi":1.9},{"b":4,"g":"L","x":100,"lo":0.35,"hi":1.25}
 ],
 "bc": [
{"p":"B","g":"L","blk":1,"v":26.75,"lo":24.66,"hi":28.81},{"p":"B","g":"L","blk":2,"v":22.5,"lo":21.0,"hi":24.0},{"p":"B","g":"L","blk":3,"v":24.17,"lo":21.9,"hi":26.43},{"p":"B","g":"L","blk":4,"v":20.58,"lo":18.9,"hi":22.28},
{"p":"B","g":"H","blk":1,"v":21.14,"lo":19.71,"hi":22.75},{"p":"B","g":"H","blk":2,"v":22.86,"lo":21.6,"hi":24.2},{"p":"B","g":"H","blk":3,"v":20.03,"lo":17.72,"hi":22.3},{"p":"B","g":"H","blk":4,"v":19.64,"lo":18.11,"hi":21.2},
{"p":"C","g":"H","blk":1,"v":16.57,"lo":14.5,"hi":19.1},{"p":"C","g":"H","blk":2,"v":11.0,"lo":8.83,"hi":13.0},{"p":"C","g":"H","blk":3,"v":5.23,"lo":3.4,"hi":7.07},{"p":"C","g":"H","blk":4,"v":4.27,"lo":3.0,"hi":5.57},
{"p":"C","g":"L","blk":1,"v":13.4,"lo":11.6,"hi":15.2},{"p":"C","g":"L","blk":2,"v":4.3,"lo":2.47,"hi":6.0},{"p":"C","g":"L","blk":3,"v":4.3,"lo":2.33,"hi":6.2},{"p":"C","g":"L","blk":4,"v":3.33,"lo":1.9,"hi":4.7}
 ]
},
"columns": 2,
"spacing": {"row": 82, "column": 119},
"bounds": "flush",
"align": {"row": "each", "column": "none"},
"concat": [
 {
  "width": 335, "height": 222,
  "title": {"text": "Block 1", "offset": -3, "frame": "group"},
  "layer": [
   {"data": {"name": "bands"}, "transform": [{"filter": "datum.b==1 && datum.g=='L'"}], "mark": {"type": "area", "color": "#cde0ae"},
    "encoding": {
     "x": {"field": "x", "type": "quantitative", "scale": {"domain": [-9.48, 100], "nice": false, "zero": false}, "axis": {"values": [10,20,30,40,50,60,70,80,90,100], "tickCount": 40, "zindex": 1, "labelExpr": "datum.value % 20 == 0 ? '' + datum.value : ''", "labelOverlap": false, "title": null, "offset": -88.8, "domain": false, "tickSize": 8, "tickWidth": 2, "labelFontSize": 25, "labelPadding": 13}},
     "y": {"field": "lo", "type": "quantitative", "scale": {"domain": [-8, 12], "nice": false, "zero": false}, "axis": {"values": [-8,-6,-4,-2,0,2,4,6,8,10,12], "tickCount": 40, "zindex": 1, "labelExpr": "'' + datum.value", "labelOverlap": false, "title": null, "offset": -29, "tickSize": 9, "tickWidth": 2, "domainWidth": 2, "labelFontSize": 25, "labelPadding": 13}},
     "y2": {"field": "hi"}}},
   {"data": {"name": "bands"}, "transform": [{"filter": "datum.b==1 && datum.g=='H'"}], "mark": {"type": "area", "color": "#f0d1e5"}, "encoding": {"x": {"field": "x", "type": "quantitative"}, "y": {"field": "lo", "type": "quantitative"}, "y2": {"field": "hi"}}},
   {"data": {"values": [{}]}, "mark": {"type": "rule", "color": "#231f20", "strokeWidth": 2}, "encoding": {"x": {"datum": 0}, "x2": {"datum": 100}, "y": {"datum": 0}}},
   {"data": {"name": "lines"}, "transform": [{"filter": "datum.b==1 && datum.g=='L'"}], "mark": {"type": "line", "strokeWidth": 3, "strokeJoin": "round"}, "encoding": {"x": {"field": "x", "type": "quantitative"}, "y": {"field": "y", "type": "quantitative"}, "color": {"field": "g", "type": "nominal", "scale": {"domain": ["H", "L"], "range": ["#ee3124", "#1b9447"]}, "legend": {"title": null, "direction": "horizontal", "orient": "none", "legendX": 220, "legendY": -85, "labelLimit": 0, "labelExpr": "datum.label == 'H' ? 'High value distractor' : 'Low value distractor'"}}}},
   {"data": {"name": "lines"}, "transform": [{"filter": "datum.b==1 && datum.g=='H'"}], "mark": {"type": "line", "strokeWidth": 3, "strokeJoin": "round"}, "encoding": {"x": {"field": "x", "type": "quantitative"}, "y": {"field": "y", "type": "quantitative"}, "color": {"field": "g", "type": "nominal", "scale": {"domain": ["H", "L"], "range": ["#ee3124", "#1b9447"]}, "legend": {"title": null, "direction": "horizontal", "orient": "none", "legendX": 220, "legendY": -85, "labelLimit": 0, "labelExpr": "datum.label == 'H' ? 'High value distractor' : 'Low value distractor'"}}}},
   {"data": {"values": [{}]}, "mark": {"type": "text", "text": "Distractor attraction score (mm)", "angle": 270, "fontSize": 22, "fontWeight": "bold", "font": "Liberation Sans", "color": "#231f20", "align": "center", "baseline": "middle"}, "encoding": {"x": {"datum": -26.15}, "y": {"datum": -9.98}}}
  ]
 },
 {
  "width": 335, "height": 222,
  "title": {"text": "Block 2", "offset": -8, "frame": "group"},
  "layer": [
   {"data": {"name": "bands"}, "transform": [{"filter": "datum.b==2 && datum.g=='L'"}], "mark": {"type": "area", "color": "#cde0ae"},
    "encoding": {
     "x": {"field": "x", "type": "quantitative", "scale": {"domain": [-9.48, 100], "nice": false, "zero": false}, "axis": {"values": [10,20,30,40,50,60,70,80,90,100], "tickCount": 40, "zindex": 1, "labelExpr": "datum.value % 20 == 0 ? '' + datum.value : ''", "labelOverlap": false, "title": null, "offset": -88.8, "domain": false, "tickSize": 8, "tickWidth": 2, "labelFontSize": 25, "labelPadding": 13}},
     "y": {"field": "lo", "type": "quantitative", "scale": {"domain": [-8, 12], "nice": false, "zero": false}, "axis": {"values": [-8,-6,-4,-2,0,2,4,6,8,10,12], "tickCount": 40, "zindex": 1, "labelExpr": "'' + datum.value", "labelOverlap": false, "title": null, "offset": -29, "tickSize": 9, "tickWidth": 2, "domainWidth": 2, "labelFontSize": 25, "labelPadding": 13}},
     "y2": {"field": "hi"}}},
   {"data": {"name": "bands"}, "transform": [{"filter": "datum.b==2 && datum.g=='H'"}], "mark": {"type": "area", "color": "#f0d1e5"}, "encoding": {"x": {"field": "x", "type": "quantitative"}, "y": {"field": "lo", "type": "quantitative"}, "y2": {"field": "hi"}}},
   {"data": {"values": [{}]}, "mark": {"type": "rule", "color": "#231f20", "strokeWidth": 2}, "encoding": {"x": {"datum": 0}, "x2": {"datum": 100}, "y": {"datum": 0}}},
   {"data": {"name": "lines"}, "transform": [{"filter": "datum.b==2 && datum.g=='L'"}], "mark": {"type": "line", "strokeWidth": 3, "strokeJoin": "round"}, "encoding": {"x": {"field": "x", "type": "quantitative"}, "y": {"field": "y", "type": "quantitative"}, "color": {"field": "g", "type": "nominal", "scale": {"domain": ["H", "L"], "range": ["#ee3124", "#1b9447"]}, "legend": {"title": null, "direction": "horizontal", "orient": "none", "legendX": 220, "legendY": -85, "labelLimit": 0, "labelExpr": "datum.label == 'H' ? 'High value distractor' : 'Low value distractor'"}}}},
   {"data": {"name": "lines"}, "transform": [{"filter": "datum.b==2 && datum.g=='H'"}], "mark": {"type": "line", "strokeWidth": 3, "strokeJoin": "round"}, "encoding": {"x": {"field": "x", "type": "quantitative"}, "y": {"field": "y", "type": "quantitative"}, "color": {"field": "g", "type": "nominal", "scale": {"domain": ["H", "L"], "range": ["#ee3124", "#1b9447"]}, "legend": {"title": null, "direction": "horizontal", "orient": "none", "legendX": 220, "legendY": -85, "labelLimit": 0, "labelExpr": "datum.label == 'H' ? 'High value distractor' : 'Low value distractor'"}}}}
  ]
 },
 {
  "width": 335, "height": 222,
  "title": {"text": "Block 3", "offset": -13, "frame": "group"},
  "layer": [
   {"data": {"name": "bands"}, "transform": [{"filter": "datum.b==3 && datum.g=='L'"}], "mark": {"type": "area", "color": "#cde0ae"},
    "encoding": {
     "x": {"field": "x", "type": "quantitative", "scale": {"domain": [-9.48, 100], "nice": false, "zero": false}, "axis": {"values": [10,20,30,40,50,60,70,80,90,100], "tickCount": 40, "zindex": 1, "labelExpr": "datum.value % 20 == 0 ? '' + datum.value : ''", "labelOverlap": false, "title": null, "offset": -88.8, "domain": false, "tickSize": 8, "tickWidth": 2, "labelFontSize": 25, "labelPadding": 13}},
     "y": {"field": "lo", "type": "quantitative", "scale": {"domain": [-8, 12], "nice": false, "zero": false}, "axis": {"values": [-8,-6,-4,-2,0,2,4,6,8,10,12], "tickCount": 40, "zindex": 1, "labelExpr": "'' + datum.value", "labelOverlap": false, "title": null, "offset": -29, "tickSize": 9, "tickWidth": 2, "domainWidth": 2, "labelFontSize": 25, "labelPadding": 13}},
     "y2": {"field": "hi"}}},
   {"data": {"name": "bands"}, "transform": [{"filter": "datum.b==3 && datum.g=='H'"}], "mark": {"type": "area", "color": "#f0d1e5"}, "encoding": {"x": {"field": "x", "type": "quantitative"}, "y": {"field": "lo", "type": "quantitative"}, "y2": {"field": "hi"}}},
   {"data": {"values": [{}]}, "mark": {"type": "rule", "color": "#231f20", "strokeWidth": 2}, "encoding": {"x": {"datum": 0}, "x2": {"datum": 100}, "y": {"datum": 0}}},
   {"data": {"name": "lines"}, "transform": [{"filter": "datum.b==3 && datum.g=='L'"}], "mark": {"type": "line", "strokeWidth": 3, "strokeJoin": "round"}, "encoding": {"x": {"field": "x", "type": "quantitative"}, "y": {"field": "y", "type": "quantitative"}, "color": {"field": "g", "type": "nominal", "scale": {"domain": ["H", "L"], "range": ["#ee3124", "#1b9447"]}, "legend": {"title": null, "direction": "horizontal", "orient": "none", "legendX": 220, "legendY": -85, "labelLimit": 0, "labelExpr": "datum.label == 'H' ? 'High value distractor' : 'Low value distractor'"}}}},
   {"data": {"name": "lines"}, "transform": [{"filter": "datum.b==3 && datum.g=='H'"}], "mark": {"type": "line", "strokeWidth": 3, "strokeJoin": "round"}, "encoding": {"x": {"field": "x", "type": "quantitative"}, "y": {"field": "y", "type": "quantitative"}, "color": {"field": "g", "type": "nominal", "scale": {"domain": ["H", "L"], "range": ["#ee3124", "#1b9447"]}, "legend": {"title": null, "direction": "horizontal", "orient": "none", "legendX": 220, "legendY": -85, "labelLimit": 0, "labelExpr": "datum.label == 'H' ? 'High value distractor' : 'Low value distractor'"}}}},
   {"data": {"values": [{}]}, "mark": {"type": "text", "text": "Normalized space (%)", "fontSize": 22, "fontWeight": "bold", "font": "Liberation Sans", "color": "#231f20", "align": "center", "baseline": "middle"}, "encoding": {"x": {"datum": 115.4}, "y": {"datum": -12.23}}}
  ]
 },
 {
  "width": 335, "height": 222,
  "title": {"text": "Block 4", "offset": -20, "frame": "group"},
  "layer": [
   {"data": {"name": "bands"}, "transform": [{"filter": "datum.b==4 && datum.g=='L'"}], "mark": {"type": "area", "color": "#cde0ae"},
    "encoding": {
     "x": {"field": "x", "type": "quantitative", "scale": {"domain": [-9.48, 100], "nice": false, "zero": false}, "axis": {"values": [10,20,30,40,50,60,70,80,90,100], "tickCount": 40, "zindex": 1, "labelExpr": "datum.value % 20 == 0 ? '' + datum.value : ''", "labelOverlap": false, "title": null, "offset": -88.8, "domain": false, "tickSize": 8, "tickWidth": 2, "labelFontSize": 25, "labelPadding": 13}},
     "y": {"field": "lo", "type": "quantitative", "scale": {"domain": [-8, 12], "nice": false, "zero": false}, "axis": {"values": [-8,-6,-4,-2,0,2,4,6,8,10,12], "tickCount": 40, "zindex": 1, "labelExpr": "'' + datum.value", "labelOverlap": false, "title": null, "offset": -29, "tickSize": 9, "tickWidth": 2, "domainWidth": 2, "labelFontSize": 25, "labelPadding": 13}},
     "y2": {"field": "hi"}}},
   {"data": {"name": "bands"}, "transform": [{"filter": "datum.b==4 && datum.g=='H'"}], "mark": {"type": "area", "color": "#f0d1e5"}, "encoding": {"x": {"field": "x", "type": "quantitative"}, "y": {"field": "lo", "type": "quantitative"}, "y2": {"field": "hi"}}},
   {"data": {"values": [{}]}, "mark": {"type": "rule", "color": "#231f20", "strokeWidth": 2}, "encoding": {"x": {"datum": 0}, "x2": {"datum": 100}, "y": {"datum": 0}}},
   {"data": {"name": "lines"}, "transform": [{"filter": "datum.b==4 && datum.g=='L'"}], "mark": {"type": "line", "strokeWidth": 3, "strokeJoin": "round"}, "encoding": {"x": {"field": "x", "type": "quantitative"}, "y": {"field": "y", "type": "quantitative"}, "color": {"field": "g", "type": "nominal", "scale": {"domain": ["H", "L"], "range": ["#ee3124", "#1b9447"]}, "legend": {"title": null, "direction": "horizontal", "orient": "none", "legendX": 220, "legendY": -85, "labelLimit": 0, "labelExpr": "datum.label == 'H' ? 'High value distractor' : 'Low value distractor'"}}}},
   {"data": {"name": "lines"}, "transform": [{"filter": "datum.b==4 && datum.g=='H'"}], "mark": {"type": "line", "strokeWidth": 3, "strokeJoin": "round"}, "encoding": {"x": {"field": "x", "type": "quantitative"}, "y": {"field": "y", "type": "quantitative"}, "color": {"field": "g", "type": "nominal", "scale": {"domain": ["H", "L"], "range": ["#ee3124", "#1b9447"]}, "legend": {"title": null, "direction": "horizontal", "orient": "none", "legendX": 220, "legendY": -85, "labelLimit": 0, "labelExpr": "datum.label == 'H' ? 'High value distractor' : 'Low value distractor'"}}}}
  ]
 },
 {
  "width": 329, "height": 355,
  "title": {"text": "Reaching task", "fontSize": 37, "fontStyle": "italic", "fontWeight": "bold", "dx": 11.5, "offset": -102, "frame": "group"},
  "layer": [
   {"data": {"values": [{}]}, "mark": {"type": "rule", "color": "#231f20", "strokeWidth": 2.5, "strokeCap": "square"}, "encoding": {"x": {"datum": 0.5}, "y": {"datum": 10}, "y2": {"datum": 30}}},
   {"data": {"values": [{}]}, "mark": {"type": "rule", "color": "white", "strokeWidth": 6}, "encoding": {"x": {"datum": 0.5}, "y": {"datum": 12.0}, "y2": {"datum": 12.9}}},
   {"data": {"values": [{}]}, "mark": {"type": "rule", "color": "#231f20", "strokeWidth": 2}, "encoding": {"x": {"datum": 0.366}, "x2": {"datum": 0.634}, "y": {"datum": 12.74}, "y2": {"datum": 13.4}}},
   {"data": {"values": [{}]}, "mark": {"type": "rule", "color": "#231f20", "strokeWidth": 2}, "encoding": {"x": {"datum": 0.366}, "x2": {"datum": 0.634}, "y": {"datum": 11.66}, "y2": {"datum": 12.32}}},
   {"data": {"name": "bc"}, "transform": [{"filter": "datum.p=='B' && datum.g=='L'"}], "mark": {"type": "line", "strokeWidth": 3},
    "encoding": {
     "x": {"field": "blk", "type": "quantitative", "scale": {"domain": [0.5, 4.5], "nice": false, "zero": false}, "axis": {"values": [0.5,1,1.5,2,2.5,3,3.5,4,4.5], "tickCount": 40, "labelExpr": "datum.value % 1 == 0 ? '' + datum.value : ''", "labelOverlap": false, "tickOpacity": {"condition": {"test": "datum.value % 1 == 0", "value": 0}, "value": 1}, "title": "Block #", "titleFontSize": 34, "titlePadding": 10, "tickSize": 10, "tickWidth": 2.5, "domainWidth": 2.5, "labelFontSize": 33, "labelPadding": 22}},
     "y": {"field": "v", "type": "quantitative", "scale": {"domain": [10, 39.46], "nice": false, "zero": false}, "axis": {"values": [10,15,20,25,30], "tickCount": 40, "labelExpr": "datum.value == 10 ? '' : '' + datum.value", "labelOverlap": false, "domain": false, "title": "Signed ITA (˚)", "titleFontSize": 33, "titlePadding": 17, "titleY": 220, "tickSize": 10, "tickWidth": 2.5, "labelFontSize": 33, "labelPadding": 20}},
     "color": {"field": "g", "type": "nominal", "scale": {"domain": ["H", "L"], "range": ["#ee3124", "#1b9447"]}, "legend": {"title": null, "direction": "horizontal", "orient": "none", "legendX": 220, "legendY": -85, "labelLimit": 0, "labelExpr": "datum.label == 'H' ? 'High value distractor' : 'Low value distractor'"}}}},
   {"data": {"name": "bc"}, "transform": [{"filter": "datum.p=='B' && datum.g=='H'"}], "mark": {"type": "line", "strokeWidth": 3}, "encoding": {"x": {"field": "blk", "type": "quantitative"}, "y": {"field": "v", "type": "quantitative"}, "color": {"field": "g", "type": "nominal", "scale": {"domain": ["H", "L"], "range": ["#ee3124", "#1b9447"]}, "legend": {"title": null, "direction": "horizontal", "orient": "none", "legendX": 220, "legendY": -85, "labelLimit": 0, "labelExpr": "datum.label == 'H' ? 'High value distractor' : 'Low value distractor'"}}}},
   {"data": {"name": "bc"}, "transform": [{"filter": "datum.p=='B'"}], "mark": {"type": "rule", "color": "#231f20", "strokeWidth": 1}, "encoding": {"x": {"field": "blk", "type": "quantitative"}, "y": {"field": "lo", "type": "quantitative"}, "y2": {"field": "hi"}}},
   {"data": {"values": [{}]}, "mark": {"type": "text", "text": "B", "fontSize": 29, "font": "Liberation Sans", "color": "#231f20", "align": "center", "baseline": "middle"}, "encoding": {"x": {"datum": -1.044}, "y": {"datum": 33.65}}}
  ]
 },
 {
  "width": 503, "height": 348,
  "title": {"text": "Keypress task", "fontSize": 37, "fontStyle": "italic", "fontWeight": "bold", "dx": 46.5, "offset": -102, "frame": "group"},
  "layer": [
   {"data": {"values": [{}]}, "mark": {"type": "rule", "color": "#231f20", "strokeWidth": 2.5, "strokeCap": "square"}, "encoding": {"x": {"datum": 0.5}, "x2": {"datum": 4.5}, "y": {"datum": 0}}},
   {"data": {"values": [{}]}, "mark": {"type": "rule", "color": "#231f20", "strokeWidth": 2.5, "strokeCap": "square"}, "encoding": {"x": {"datum": 0.5}, "y": {"datum": 0}, "y2": {"datum": 20}}},
   {"data": {"name": "bc"}, "transform": [{"filter": "datum.p=='C' && datum.g=='L'"}], "mark": {"type": "line", "strokeWidth": 3},
    "encoding": {
     "x": {"field": "blk", "type": "quantitative", "scale": {"domain": [-1.058, 4.5], "nice": false, "zero": false}, "axis": {"values": [0.5,1,1.5,2,2.5,3,3.5,4,4.5], "tickCount": 40, "labelExpr": "datum.value % 1 == 0 ? '' + datum.value : ''", "labelOverlap": false, "tickOpacity": {"condition": {"test": "datum.value % 1 == 0", "value": 0}, "value": 1}, "domain": false, "title": "Block #", "titleFontSize": 36, "titlePadding": 7, "titleX": 321, "tickSize": 10, "tickWidth": 2.5, "labelFontSize": 36, "labelPadding": 25}},
     "y": {"field": "v", "type": "quantitative", "scale": {"domain": [0, 34.8], "nice": false, "zero": false}, "axis": {"values": [0,5,10,15,20], "tickCount": 40, "labelOverlap": false, "domain": false, "offset": -141, "title": "Error Rate (%)", "titleFontSize": 36, "titlePadding": 24, "titleY": 249, "tickSize": 10, "tickWidth": 2.5, "labelFontSize": 36, "labelPadding": 22}},
     "color": {"field": "g", "type": "nominal", "scale": {"domain": ["H", "L"], "range": ["#ee3124", "#1b9447"]}, "legend": {"title": null, "direction": "horizontal", "orient": "none", "legendX": 220, "legendY": -85, "labelLimit": 0, "labelExpr": "datum.label == 'H' ? 'High value distractor' : 'Low value distractor'"}}}},
   {"data": {"name": "bc"}, "transform": [{"filter": "datum.p=='C' && datum.g=='H'"}], "mark": {"type": "line", "strokeWidth": 3}, "encoding": {"x": {"field": "blk", "type": "quantitative"}, "y": {"field": "v", "type": "quantitative"}, "color": {"field": "g", "type": "nominal", "scale": {"domain": ["H", "L"], "range": ["#ee3124", "#1b9447"]}, "legend": {"title": null, "direction": "horizontal", "orient": "none", "legendX": 220, "legendY": -85, "labelLimit": 0, "labelExpr": "datum.label == 'H' ? 'High value distractor' : 'Low value distractor'"}}}},
   {"data": {"name": "bc"}, "transform": [{"filter": "datum.p=='C'"}], "mark": {"type": "rule", "color": "#231f20", "strokeWidth": 1}, "encoding": {"x": {"field": "blk", "type": "quantitative"}, "y": {"field": "lo", "type": "quantitative"}, "y2": {"field": "hi"}}},
   {"data": {"values": [{}]}, "mark": {"type": "text", "text": "C", "fontSize": 29, "font": "Liberation Sans", "color": "#231f20", "align": "center", "baseline": "middle"}, "encoding": {"x": {"datum": -1.047}, "y": {"datum": 27.8}}}
  ]
 }
]
}
